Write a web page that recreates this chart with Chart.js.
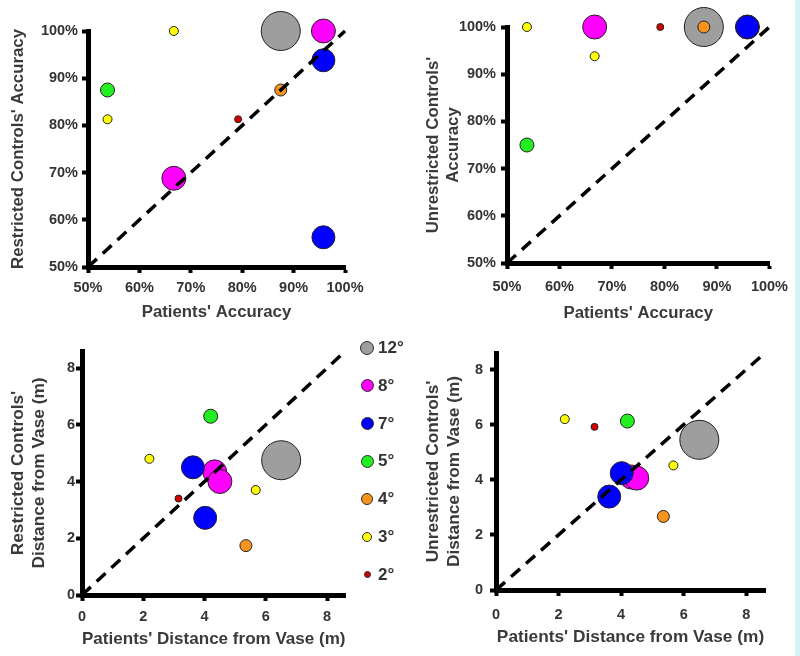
<!DOCTYPE html>
<html>
<head>
  <meta charset="utf-8">
  <title>Patients vs controls</title>
  <script src="https://cdn.jsdelivr.net/npm/chart.js"></script>
  <style>
    body { margin: 0; background: #fff; }
    #wrap { position: relative; width: 800px; height: 656px; overflow: hidden; font-family: 'Liberation Sans', Arial, sans-serif; }
    canvas { position: absolute; }
    #edge { position: absolute; right: 0; top: 0; width: 5px; height: 656px; background: #d6f2f7; }
    .key { position: absolute; left: 360px; height: 20px; display: flex; align-items: center; font-weight: bold; font-size: 17px; color: #333; }
    .key span.dot { display: inline-block; border: 1px solid #2b2b2b; border-radius: 50%; box-sizing: border-box; }
  </style>
</head>
<body>
<div id="wrap">
  <canvas id="accRestricted" width="400" height="330" style="left:0;top:0"></canvas>
  <canvas id="accUnrestricted" width="397" height="330" style="left:400px;top:0"></canvas>
  <canvas id="distRestricted" width="366" height="326" style="left:0;top:330px"></canvas>
  <canvas id="distUnrestricted" width="395" height="326" style="left:400px;top:330px"></canvas>
  <div id="legend"></div>
  <div id="edge"></div>
</div>

<script>
  // visual field loss categories (legend)
  const degrees = ['12°', '8°', '7°', '5°', '4°', '3°', '2°'];
  const colours = ['#9e9e9e', '#ff00ff', '#0000ff', '#22ee22', '#f7941d', '#ffff00', '#d40000'];
  const sizes = [19.5, 12, 11.5, 7, 6, 4.5, 3.5];

  // one entry per patient
  const patientGroup = ['12°', '8°', '8°', '7°', '7°', '5°', '4°', '3°', '3°', '2°'];

  // accuracy (%)
  const patientsAcc = [87.5, 66.7, 95.8, 95.8, 95.8, 53.8, 87.5, 53.8, 66.7, 79.2];
  const restrictedAcc = [100, 68.8, 100, 93.8, 56.3, 87.5, 87.5, 81.3, 100, 81.3];
  const unrestrictedAcc = [100, 100, 100, 100, 100, 75, 100, 100, 93.8, 100];

  // distance from vase (m)
  const patientsDist = [6.5, 4.33, 4.5, 3.62, 4.02, 4.2, 5.35, 2.2, 5.67, 3.15];
  const restrictedDist = [4.75, 4.34, 4.0, 4.5, 2.72, 6.3, 1.74, 4.8, 3.7, 3.4];
  const unrestrictedDist = [5.45, 4.1, 4.06, 3.39, 4.24, 6.13, 2.67, 6.2, 4.52, 5.92];

  // identity line (y = x) end points
  const identityAcc = [50, 100];
  const identityDist = [0, 8.6];

  const FONT = "'Liberation Sans', Arial, sans-serif";

  function makeDatasets(xs, ys, identity) {
    const sets = degrees.map((d, i) => ({
      type: 'bubble',
      label: d,
      data: patientGroup.map((g, k) => g === d ? { x: xs[k], y: ys[k] } : null).filter(p => p),
      backgroundColor: colours[i],
      borderColor: '#222',
      borderWidth: 1,
      radius: sizes[i],
      order: degrees.length - i,
      clip: false
    }));
    sets.push({
      type: 'line',
      data: identity.map(v => ({ x: v, y: v })),
      borderColor: '#000',
      borderWidth: 3.5,
      borderDash: [12, 8],
      pointRadius: 0,
      order: 0,
      clip: false
    });
    return sets;
  }

  function makeAxis(o) {
    return {
      type: 'linear',
      min: o.min,
      max: o.max,
      bounds: 'data',
      ticks: {
        stepSize: o.step,
        includeBounds: false,
        callback: o.fmt,
        color: '#333',
        padding: o.tickPad,
        font: { family: FONT, weight: 'bold', size: 14.5 }
      },
      grid: { drawOnChartArea: false, drawTicks: true, tickLength: 6, tickWidth: 4, tickColor: '#000' },
      border: { display: true, width: 5, color: '#000' },
      title: {
        display: true,
        text: o.title,
        color: '#3a3a3a',
        padding: o.titlePad,
        font: { family: FONT, weight: 'bold', size: o.titleSize || 16.5, lineHeight: 1.2 }
      },
      afterFit: (scale) => {
        if (o.width) scale.width = o.width;
        if (o.height) scale.height = o.height;
      }
    };
  }

  const pct = v => v + '%';
  const num = v => v;

  function drawPanel(id, xs, ys, identity, cfg) {
    new Chart(document.getElementById(id), {
      type: 'bubble',
      data: { datasets: makeDatasets(xs, ys, identity) },
      options: {
        responsive: false,
        animation: false,
        events: [],
        layout: { padding: cfg.pad },
        plugins: { legend: { display: false }, tooltip: { enabled: false } },
        scales: { x: makeAxis(cfg.x), y: makeAxis(cfg.y) }
      }
    });
  }

  drawPanel('accRestricted', patientsAcc, restrictedAcc, identityAcc, {
    pad: { left: 0, top: 31, right: 55, bottom: 0 },
    x: { min: 50, max: 100, step: 10, fmt: pct, tickPad: 6, title: "Patients' Accuracy", titlePad: { bottom: 8 }, height: 63, titleSize: 16.8 },
    y: { min: 50, max: 100, step: 10, fmt: pct, tickPad: 4, title: "Restricted Controls' Accuracy", titlePad: { top: 8 }, width: 88, titleSize: 16.8 }
  });

  drawPanel('accUnrestricted', patientsAcc, unrestrictedAcc, identityAcc, {
    pad: { left: 0, top: 27, right: 25, bottom: 0 },
    x: { min: 50, max: 100, step: 10, fmt: pct, tickPad: 9, title: "Patients' Accuracy", titlePad: { bottom: 7 }, height: 67, titleSize: 16.8 },
    y: { min: 50, max: 100, step: 10, fmt: pct, tickPad: 5, title: ["Unrestricted Controls'", 'Accuracy'], titlePad: { top: 23 }, width: 107, titleSize: 16.8 }
  });

  drawPanel('distRestricted', patientsDist, restrictedDist, identityDist, {
    pad: { left: 0, top: 21, right: 14, bottom: 0 },
    x: { min: 0, max: 8.6, step: 2, fmt: num, tickPad: 7, title: "Patients' Distance from Vase (m)", titlePad: { bottom: 6 }, height: 61, titleSize: 17.3 },
    y: { min: 0, max: 8.6, step: 2, fmt: num, tickPad: 1, title: ["Restricted Controls'", 'Distance from Vase (m)'], titlePad: { top: 8 }, width: 82, titleSize: 17.3 }
  });

  drawPanel('distUnrestricted', patientsDist, unrestrictedDist, identityDist, {
    pad: { left: 0, top: 23, right: 30, bottom: 0 },
    x: { min: 0, max: 8.6, step: 2, fmt: num, tickPad: 10, title: "Patients' Distance from Vase (m)", titlePad: { bottom: 8 }, height: 66, titleSize: 17.3 },
    y: { min: 0, max: 8.6, step: 2, fmt: num, tickPad: 7, title: ["Unrestricted Controls'", 'Distance from Vase (m)'], titlePad: { top: 23 }, width: 96, titleSize: 17.3 }
  });

  // legend for the degree categories
  const legendSizes = [14, 13, 13, 13, 12, 10, 7];
  const legend = document.getElementById('legend');
  degrees.forEach((d, i) => {
    const row = document.createElement('div');
    row.className = 'key';
    row.style.top = (338 + i * 37.8) + 'px';
    const dot = document.createElement('span');
    dot.className = 'dot';
    dot.style.width = legendSizes[i] + 'px';
    dot.style.height = legendSizes[i] + 'px';
    dot.style.background = colours[i];
    dot.style.marginLeft = ((14 - legendSizes[i]) / 2) + 'px';
    dot.style.marginRight = (4 + (14 - legendSizes[i]) / 2) + 'px';
    const txt = document.createElement('span');
    txt.textContent = d;
    row.appendChild(dot);
    row.appendChild(txt);
    legend.appendChild(row);
  });
</script>
</body>
</html>
